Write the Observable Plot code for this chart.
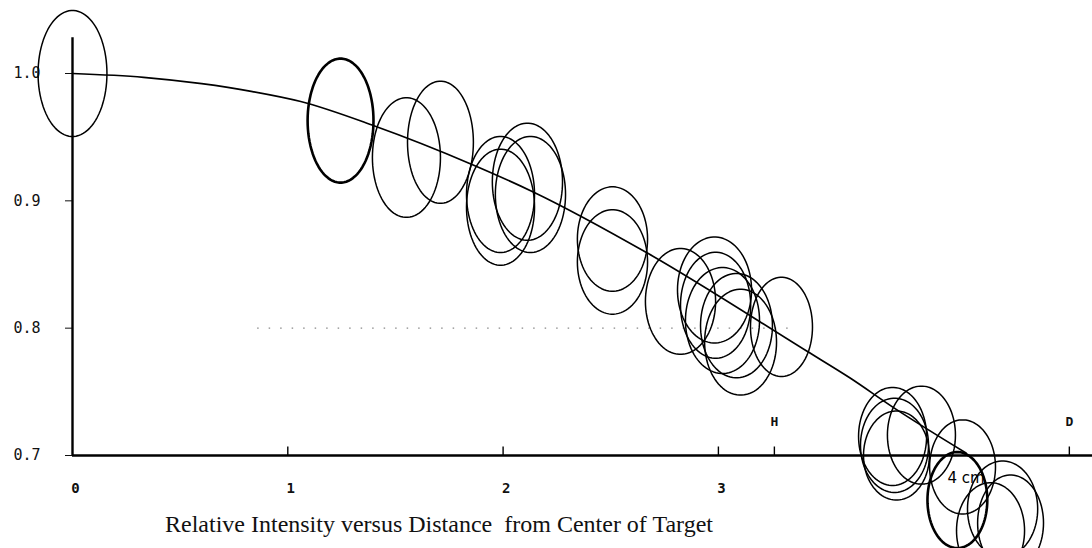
<!DOCTYPE html>
<html><head><meta charset="utf-8">
<script src="https://cdn.jsdelivr.net/npm/d3@7"></script>
<script src="https://cdn.jsdelivr.net/npm/@observablehq/plot@0.6"></script>
<style>
body{margin:0;background:#fff;}
#wrap{position:relative;width:1092px;height:548px;overflow:hidden;background:#fff;}
#caption{position:absolute;left:165px;top:512px;font-family:"Liberation Serif","Times New Roman",serif;font-size:24px;line-height:24px;white-space:pre;color:#111;}
</style></head><body>
<div id="wrap"><div id="chart"></div><div id="caption">Relative Intensity versus Distance  from Center of Target</div></div>
<script>
// ---- data ----
const yTicks = [0.7, 0.8, 0.9, 1.0];
const xTickValues = [0, 1, 2, 3];
const xTickLabels = ["0", "1", "2", "3"];
const tickMarkValues = [1, 2, 3, 3.26, 4.63];
const markerValues = [3.26, 4.63];
const markerLabels = ["H", "D"];
const yAxisTop = 1.028;

const curveX = [0, 0.33, 0.6, 0.83, 1.06, 1.40, 1.85, 2.14, 2.67, 3.41, 3.61, 3.81, 4.15];
const curveY = [1.0, 0.997, 0.992, 0.986, 0.978, 0.959, 0.929, 0.907, 0.859, 0.782, 0.761, 0.738, 0.702];

const ellipseX  = [0, 1.245, 1.551, 1.709, 1.988, 1.988, 2.113, 2.127, 2.508, 2.508, 2.824, 2.982, 2.987, 3.019, 3.084, 3.103, 3.293, 3.809, 3.943, 3.818, 3.827, 4.134, 4.110, 4.320, 4.357, 4.264];
const ellipseY  = [1.000, 0.963, 0.934, 0.946, 0.905, 0.895, 0.915, 0.905, 0.870, 0.852, 0.821, 0.830, 0.818, 0.806, 0.802, 0.789, 0.801, 0.715, 0.716, 0.708, 0.700, 0.691, 0.665, 0.658, 0.647, 0.641];
const ellipseRx = [0.160, 0.153, 0.158, 0.153, 0.158, 0.158, 0.163, 0.163, 0.163, 0.163, 0.163, 0.172, 0.163, 0.172, 0.167, 0.167, 0.144, 0.158, 0.158, 0.158, 0.153, 0.153, 0.139, 0.163, 0.153, 0.158];
const ellipseRy = [0.0495, 0.0487, 0.047, 0.048, 0.0456, 0.0456, 0.046, 0.0456, 0.041, 0.041, 0.0416, 0.0416, 0.0416, 0.0416, 0.041, 0.0416, 0.039, 0.0385, 0.0385, 0.037, 0.035, 0.037, 0.0377, 0.0377, 0.0377, 0.0377];
const ellipseBold = [false, true, false, false, false, false, false, false, false, false, false, false, false, false, false, false, false, false, false, false, false, false, true, false, false, false];

const noteX = [4.15];
const noteY = [0.682];
const noteText = ["4 cm"];

const gridX1 = 0.86, gridX2 = 3.35, gridY = 0.8;

// ---- derived tables ----
const curve = curveX.map((x, i) => ({x, y: curveY[i]}));
const outline = [];
ellipseX.forEach((cx, i) => {
  for (let k = 0; k < 90; k++) {
    const t = 2 * Math.PI * k / 90;
    outline.push({id: i, bold: ellipseBold[i], x: cx + ellipseRx[i] * Math.cos(t), y: ellipseY[i] + ellipseRy[i] * Math.sin(t)});
  }
});
const notes = noteX.map((x, i) => ({x, y: noteY[i], text: noteText[i]}));
const tickUp = {draw(ctx) { ctx.moveTo(0, 0); ctx.lineTo(0, -9); }};

const chart = Plot.plot({
  width: 1092, height: 548,
  marginLeft: 72, marginRight: 0, marginTop: 0, marginBottom: 0,
  style: {fontFamily: "'DejaVu Sans Mono', monospace", fontSize: "15px", color: "#111", background: "#fff"},
  x: {domain: [0, 1020 / 215.3], axis: null},
  y: {domain: [0.7 - 93 / 1273.3, 0.7 + 455 / 1273.3], ticks: yTicks, tickFormat: d3.format(".1f"), tickSize: 7, tickPadding: 25, label: null},
  marks: [
    Plot.ruleY([gridY], {x1: () => gridX1, x2: () => gridX2, stroke: "#888", strokeWidth: 1.2, strokeDasharray: "1.5,10"}),
    Plot.ruleY([0.7], {stroke: "#000", strokeWidth: 2.4}),
    Plot.ruleX([0], {y1: () => 0.7, y2: () => yAxisTop, stroke: "#000", strokeWidth: 2.4}),
    Plot.dot(tickMarkValues, {x: d => d, y: () => 0.7, symbol: tickUp, r: 3, fill: "none", stroke: "#000", strokeWidth: 1.4}),
    Plot.text(xTickValues, {x: d => d, y: () => 0.7, text: (d, i) => xTickLabels[i], dy: 33, dx: 3, fontSize: 14, fontWeight: "bold", fill: "#111"}),
    Plot.text(markerValues, {x: d => d, y: () => 0.7, text: (d, i) => markerLabels[i], dy: -34, fontSize: 13, fontWeight: "bold", fill: "#111"}),
    Plot.line(outline.filter(d => !d.bold), {x: "x", y: "y", z: "id", curve: "linear-closed", stroke: "#000", strokeWidth: 1.5}),
    Plot.line(outline.filter(d => d.bold), {x: "x", y: "y", z: "id", curve: "linear-closed", stroke: "#000", strokeWidth: 2.6}),
    Plot.line(curve, {x: "x", y: "y", curve: "monotone-x", stroke: "#000", strokeWidth: 1.7}),
    Plot.text(notes, {x: "x", y: "y", text: "text", fontSize: 15, fontFamily: "DejaVu Sans", fill: "#000"})
  ]
});
document.getElementById("chart").appendChild(chart);
</script>
</body></html>
